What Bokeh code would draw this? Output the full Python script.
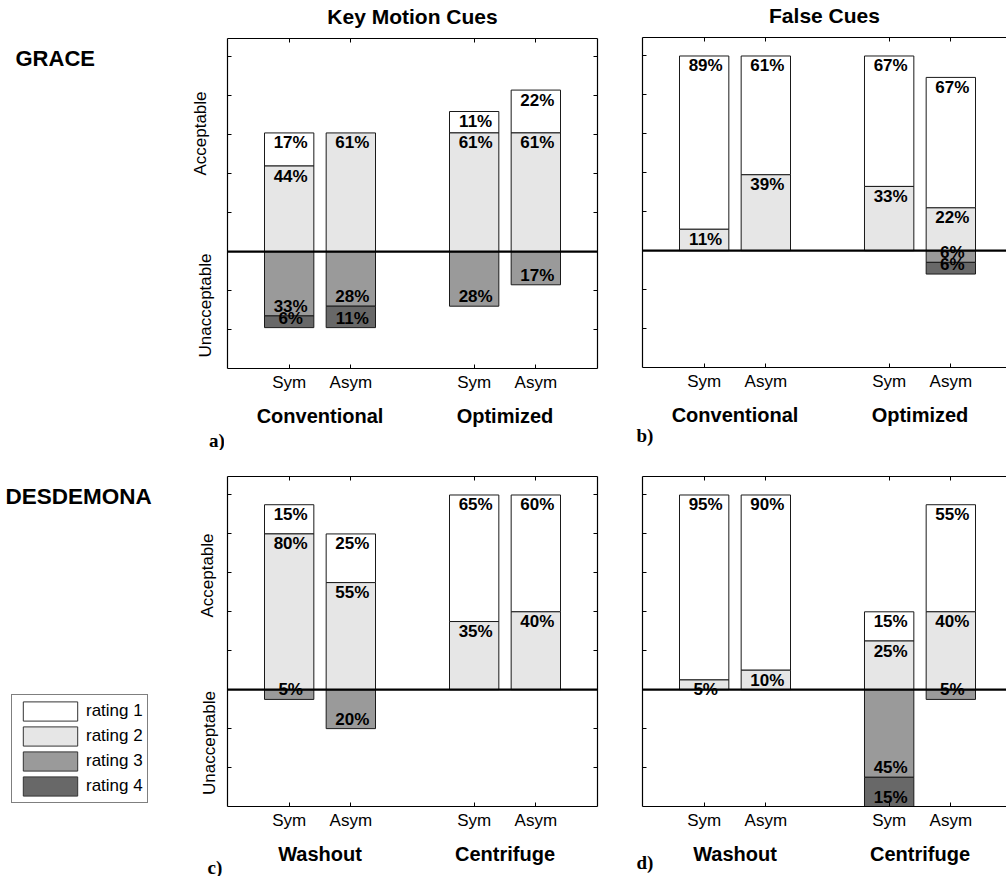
from math import pi

from bokeh.core.properties import value
from bokeh.embed import file_html
from bokeh.layouts import column, row
from bokeh.models import (ColumnDataSource, CustomJSTickFormatter, FixedTicker, Label,
                          Legend, LegendItem, LinearAxis, Range1d, Span)
from bokeh.plotting import figure
from bokeh.resources import INLINE

SANS = "Liberation Sans"
SERIF = "Liberation Serif"

# ---- data -------------------------------------------------------------
conditions = ["Sym", "Asym", "Sym", "Asym"]
bar_x = [1, 2, 4, 5]
group_x = [1.5, 4.5]
y_ticks = [-40, -20, 0, 20, 40, 60, 80, 100]

grace_groups = ["Conventional", "Optimized"]
desdemona_groups = ["Washout", "Centrifuge"]

rating_names = ["rating 1", "rating 2", "rating 3", "rating 4"]
rating_colors = ["#ffffff", "#e6e6e6", "#9a9a9a", "#686868"]

# percentage of ratings per condition: [Sym, Asym, Sym, Asym]
grace_key_r1 = [17, 0, 11, 22]
grace_key_r2 = [44, 61, 61, 61]
grace_key_r3 = [33, 28, 28, 17]
grace_key_r4 = [6, 11, 0, 0]

grace_false_r1 = [89, 61, 67, 67]
grace_false_r2 = [11, 39, 33, 22]
grace_false_r3 = [0, 0, 0, 6]
grace_false_r4 = [0, 0, 0, 6]

desdemona_key_r1 = [15, 25, 65, 60]
desdemona_key_r2 = [80, 55, 35, 40]
desdemona_key_r3 = [5, 20, 0, 0]
desdemona_key_r4 = [0, 0, 0, 0]

desdemona_false_r1 = [95, 90, 15, 55]
desdemona_false_r2 = [5, 10, 25, 40]
desdemona_false_r3 = [0, 0, 45, 5]
desdemona_false_r4 = [0, 0, 15, 0]

FULL_FRAME_W = 370  # frame width that spans x = 0..6


def style_axis(ax):
    ax.axis_line_color = "black"
    ax.axis_line_width = 1.2
    ax.major_tick_line_color = "black"
    ax.major_tick_line_width = 1
    ax.major_tick_in = 4
    ax.major_tick_out = 0
    ax.minor_tick_line_color = None


def blank_axis(ticks, title=None, title_standoff=0):
    ax = LinearAxis(ticker=FixedTicker(ticks=ticks),
                    formatter=CustomJSTickFormatter(code="return ''"))
    style_axis(ax)
    ax.major_label_text_font_size = "0px"
    ax.major_label_standoff = 0
    if title:
        ax.axis_label = title
        ax.axis_label_standoff = title_standoff
        ax.axis_label_text_font = SANS
        ax.axis_label_text_font_style = "bold"
        ax.axis_label_text_font_size = "21px"
        ax.axis_label_text_color = "black"
    return ax


def label_axis(ticks, labels, font, size, bold, standoff):
    ax = LinearAxis(ticker=FixedTicker(ticks=ticks),
                    major_label_overrides={t: s for t, s in zip(ticks, labels)})
    ax.axis_line_color = None
    ax.major_tick_line_color = None
    ax.minor_tick_line_color = None
    ax.major_tick_in = 0
    ax.major_tick_out = 0
    ax.major_label_standoff = standoff
    ax.major_label_text_font = font
    ax.major_label_text_font_size = size
    ax.major_label_text_font_style = "bold" if bold else "normal"
    ax.major_label_text_color = "black"
    return ax


def make_panel(r1, r2, r3, r4, groups, *, width, height, left, right, top, bottom,
               right_axis, title=None, letter=None, letter_standoff=0):
    frame_w = width - left - right
    x_end = 6 * frame_w / FULL_FRAME_W
    p = figure(width=width, height=height,
               x_range=Range1d(0, x_end), y_range=Range1d(-60, 109.5),
               x_axis_type=None, y_axis_type=None,
               toolbar_location=None, output_backend="svg",
               min_border_left=left, min_border_right=right,
               min_border_top=top, min_border_bottom=bottom,
               frame_align=False,
               outline_line_color=None,
               background_fill_color="white", border_fill_color="white")

    # stacked segments: ratings 1-2 above zero, ratings 3-4 below
    tot12 = [a + b for a, b in zip(r2, r1)]
    neg3 = [-v for v in r3]
    neg34 = [-(a + b) for a, b in zip(r3, r4)]
    segments = [
        (r1, r2, tot12, True, rating_colors[0]),
        (r2, [0] * 4, r2, True, rating_colors[1]),
        (r3, neg3, [0] * 4, False, rating_colors[2]),
        (r4, neg34, neg3, False, rating_colors[3]),
    ]
    sources = []
    for vals, lo, hi, positive, color in segments:
        keep = [i for i, v in enumerate(vals) if v > 0]
        src = ColumnDataSource(dict(
            x=[bar_x[i] for i in keep],
            bottom=[lo[i] for i in keep],
            top=[hi[i] for i in keep],
            label=[f"{vals[i]}%" for i in keep],
            ly=[hi[i] if positive else lo[i] for i in keep],
        ))
        p.vbar(x="x", width=0.8, bottom="bottom", top="top", source=src,
               fill_color=color, line_color="#1a1a1a", line_width=1)
        sources.append((src, positive))

    for src, positive in sources:
        p.text(x="x", y="ly", text="label", source=src,
               text_align="center",
               text_baseline="top" if positive else "bottom",
               x_offset=1.5, y_offset=0.5 if positive else 0,
               text_font=value(SANS), text_font_style="bold",
               text_font_size="17px", text_color="black")

    p.add_layout(Span(location=0, dimension="width", line_color="black",
                      line_width=2.2))

    # frame made of axes with inward ticks
    xb = LinearAxis(ticker=FixedTicker(ticks=bar_x),
                    major_label_overrides={x: c for x, c in zip(bar_x, conditions)})
    style_axis(xb)
    xb.major_label_standoff = 4
    xb.major_label_text_font = SANS
    xb.major_label_text_font_size = "17px"
    xb.major_label_text_color = "black"
    p.add_layout(xb, "below")
    p.add_layout(label_axis(group_x, groups, SANS, "20px", True, 10), "below")
    if letter:
        p.add_layout(label_axis([0.04], [letter], SERIF, "19px", True, letter_standoff),
                     "below")
    p.add_layout(blank_axis(bar_x, title, 11), "above")
    p.add_layout(blank_axis(y_ticks), "left")
    if right_axis:
        p.add_layout(blank_axis(y_ticks), "right")
    return p


def text_panel(width, height):
    # plain drawing area whose data units are pixels from the top-left corner
    t = figure(width=width, height=height,
               x_range=Range1d(0, width), y_range=Range1d(height, 0),
               x_axis_type=None, y_axis_type=None,
               toolbar_location=None, output_backend="svg",
               min_border=0, frame_align=False, outline_line_color=None,
               background_fill_color="white", border_fill_color="white")
    return t


def put(t, x, y, txt, size, font=SANS, bold=True, angle=0.0, align="left"):
    t.add_layout(Label(x=x, y=y, text=txt, angle=angle,
                       text_align=align, text_baseline="middle",
                       text_font=font, text_font_style="bold" if bold else "normal",
                       text_font_size=size, text_color="black"))


TOP_H, BOT_H = 450, 426
SIDE_W = 224

# ---- top row: GRACE ----------------------------------------------------
side_top = text_panel(SIDE_W, TOP_H)
put(side_top, 15, 58, "GRACE", "22px")
put(side_top, 200, 133, "Acceptable", "17px", bold=False, angle=pi / 2, align="center")
put(side_top, 205, 305, "Unacceptable", "17px", bold=False, angle=pi / 2, align="center")
put(side_top, 208.5, 439.5, "a)", "19px", font=SERIF)

pa = make_panel(grace_key_r1, grace_key_r2, grace_key_r3, grace_key_r4, grace_groups,
                width=396, height=TOP_H, left=3, right=23, top=38, bottom=82,
                right_axis=True, title="Key Motion Cues")
pb = make_panel(grace_false_r1, grace_false_r2, grace_false_r3, grace_false_r4,
                grace_groups,
                width=386, height=TOP_H, left=22, right=0, top=37, bottom=83,
                right_axis=False, title="False Cues", letter="b)", letter_standoff=-4)

# ---- bottom row: DESDEMONA ---------------------------------------------
side_bot = text_panel(SIDE_W, BOT_H)
put(side_bot, 5, 45.8, "DESDEMONA", "22.5px")
put(side_bot, 207, 125, "Acceptable", "17px", bold=False, angle=pi / 2, align="center")
put(side_bot, 208.5, 292.5, "Unacceptable", "17px", bold=False, angle=pi / 2,
    align="center")
put(side_bot, 207, 416.5, "c)", "19px", font=SERIF)

# legend proxies: NaN rows are never drawn, they only carry the swatch style
nan = float("nan")
swatches = [side_bot.vbar(x=[nan], top=[nan], width=0.8, fill_color=c,
                          line_color="#333333", line_width=1)
            for c in rating_colors]
legend = Legend(items=[LegendItem(label=n, renderers=[r])
                       for n, r in zip(rating_names, swatches)],
                location=(11, 73), margin=0, padding=4, spacing=1,
                glyph_width=68, glyph_height=24, label_height=24,
                label_standoff=2, label_text_font=SANS, label_text_font_size="17px",
                label_text_color="black",
                border_line_color="black", border_line_width=1,
                background_fill_color="white", background_fill_alpha=1)
side_bot.add_layout(legend)

pc = make_panel(desdemona_key_r1, desdemona_key_r2, desdemona_key_r3, desdemona_key_r4,
                desdemona_groups,
                width=396, height=BOT_H, left=3, right=23, top=26, bottom=70,
                right_axis=True)
pd = make_panel(desdemona_false_r1, desdemona_false_r2, desdemona_false_r3,
                desdemona_false_r4, desdemona_groups,
                width=386, height=BOT_H, left=22, right=0, top=26, bottom=70,
                right_axis=False, letter="d)", letter_standoff=-16)

layout = column(row(side_top, pa, pb), row(side_bot, pc, pd))

open("out.html", "w").write(file_html(layout, INLINE))
